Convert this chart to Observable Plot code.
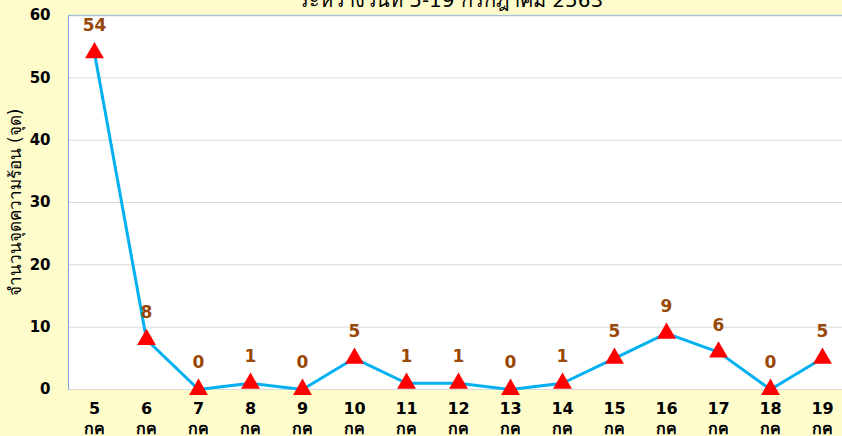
<!DOCTYPE html>
<html>
<head>
<meta charset="utf-8">
<script src="https://cdn.jsdelivr.net/npm/d3@7"></script>
<script src="https://cdn.jsdelivr.net/npm/@observablehq/plot@0.6"></script>
<style>
  html, body { margin: 0; padding: 0; background: #FEFCCB; }
</style>
</head>
<body>
<div id="chart"></div>
<script>
const days = ["5","6","7","8","9","10","11","12","13","14","15","16","17","18","19"];
const hotspots = [54, 8, 0, 1, 0, 5, 1, 1, 0, 1, 5, 9, 6, 0, 5];
const monthLabel = "กค";
const yTicks = [0, 10, 20, 30, 40, 50, 60];
const titleText = "ระหว่างวันที่ 5-19 กรกฎาคม 2563";
const yTitle = "จำนวนจุดความร้อน (จุด)";

const data = days.map((d, i) => ({day: d, value: hotspots[i]}));

const chart = Plot.plot({
  width: 842,
  height: 436,
  marginLeft: 68,
  marginRight: -6,
  marginTop: 15,
  marginBottom: 47,
  style: {background: "#FEFCCB", fontFamily: "'DejaVu Sans', 'Noto Sans', sans-serif", color: "#000"},
  x: {type: "point", domain: days, padding: 0.5},
  y: {domain: [0, 60]},
  marks: [
    Plot.frame({fill: "white", stroke: null}),
    Plot.gridY(yTicks.filter(t => t > 0 && t < 60), {stroke: "#D9D9D9", strokeOpacity: 1}),
    Plot.ruleY([0], {stroke: "#D9D9D9"}),
    Plot.ruleY([60], {stroke: "#A9C1DA", strokeWidth: 1.5}),
    Plot.frame({anchor: "left", stroke: "#7FA6D6"}),
    Plot.axisY({ticks: yTicks, tickSize: 0, tickPadding: 18, fontWeight: "bold", fontSize: 15, label: null}),
    Plot.text([yTitle], {frameAnchor: "left", textAnchor: "middle", rotate: -90, dx: -53, fontSize: 17}),
    Plot.axisX({tickSize: 0, tickPadding: 10, tickFormat: d => d + "\n" + monthLabel, fontSize: 16, fontWeight: "bold", lineHeight: 1.25, label: null}),
    Plot.line(data, {x: "day", y: "value", stroke: "#00B0F0", strokeWidth: 3}),
    Plot.dot(data, {x: "day", y: "value", symbol: "triangle", r: 7, fill: "#FF0000", stroke: null}),
    Plot.text(data, {x: "day", y: "value", text: "value", dy: -27, fill: "#984807", fontSize: 17, fontWeight: "bold"}),
    Plot.text([titleText], {frameAnchor: "top", lineAnchor: "bottom", dy: -9, dx: -8, fontSize: 20})
  ]
});
document.getElementById("chart").appendChild(chart);
</script>
</body>
</html>
